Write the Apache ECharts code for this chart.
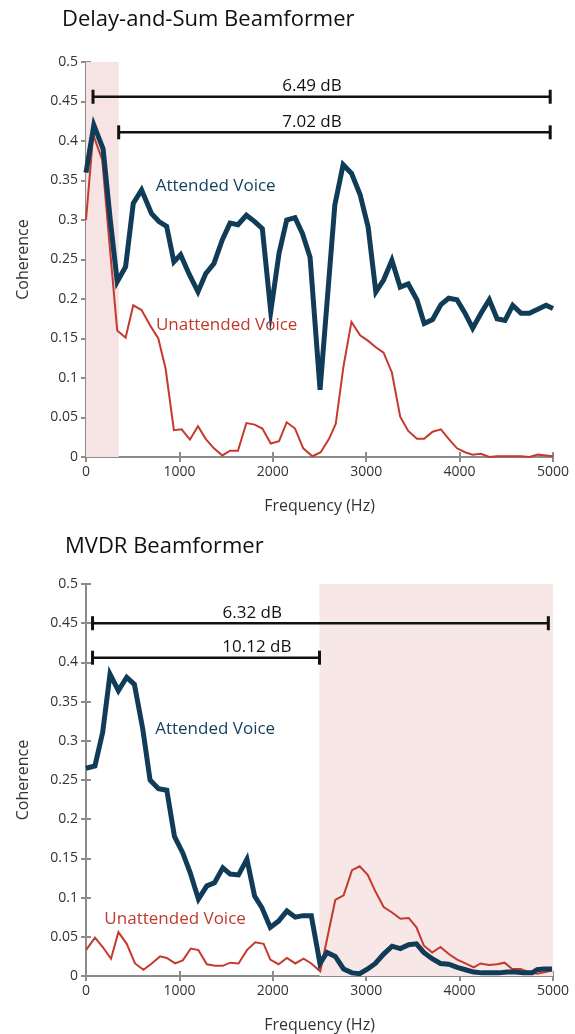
<!DOCTYPE html>
<html><head><meta charset="utf-8">
<script src="https://cdn.jsdelivr.net/npm/echarts@6/dist/echarts.min.js"></script>
<style>html,body{margin:0;padding:0;background:#fff}#c{width:575px;height:1034px}</style>
</head><body><div id="c"></div>
<script>
// ---------- DATA ----------
const titles = ['Delay-and-Sum Beamformer', 'MVDR Beamformer'];
const xTickMax = 5000, xTickStep = 1000;
const yTickMax = 0.5, yTickStep = 0.05;

// Delay-and-Sum: [frequency Hz, coherence]
const dsAttended = [[0,0.36],[84,0.42],[183,0.39],[260,0.30],[334,0.222],[424,0.241],[506,0.321],[595,0.338],[702,0.308],[781,0.298],[863,0.292],[941,0.247],[1013,0.256],[1102,0.232],[1199,0.209],[1281,0.232],[1370,0.245],[1460,0.275],[1542,0.296],[1627,0.294],[1717,0.306],[1806,0.298],[1888,0.289],[1978,0.184],[2067,0.258],[2149,0.30],[2238,0.303],[2317,0.283],[2399,0.253],[2506,0.085],[2664,0.319],[2753,0.37],[2843,0.359],[2935,0.332],[3021,0.291],[3103,0.209],[3186,0.224],[3275,0.249],[3364,0.215],[3450,0.219],[3543,0.199],[3621,0.169],[3711,0.174],[3800,0.193],[3883,0.201],[3972,0.199],[4058,0.182],[4140,0.163],[4229,0.182],[4318,0.199],[4401,0.175],[4486,0.173],[4569,0.192],[4658,0.182],[4747,0.182],[4837,0.187],[4926,0.192],[5000,0.188]];
const dsUnattended = [[0,0.30],[77,0.408],[174,0.376],[245,0.279],[334,0.16],[424,0.151],[506,0.192],[595,0.186],[684,0.167],[774,0.15],[852,0.112],[941,0.034],[1024,0.035],[1113,0.022],[1199,0.039],[1281,0.023],[1370,0.011],[1460,0.002],[1542,0.008],[1627,0.008],[1717,0.043],[1806,0.041],[1888,0.036],[1978,0.017],[2067,0.02],[2149,0.044],[2238,0.036],[2326,0.011],[2424,0.001],[2513,0.006],[2602,0.023],[2674,0.042],[2756,0.114],[2842,0.171],[2935,0.154],[3021,0.147],[3103,0.139],[3186,0.132],[3275,0.107],[3364,0.051],[3450,0.033],[3543,0.023],[3621,0.023],[3711,0.032],[3800,0.035],[3883,0.023],[3972,0.011],[4058,0.006],[4140,0.003],[4229,0.004],[4318,0.0],[4401,0.001],[4486,0.001],[4569,0.001],[4658,0.001],[4747,0.0],[4837,0.003],[4926,0.002],[5000,0.001]];
const dsShade = [0, 350];
const dsBarStart = [75, 350];
const dsBarEnd = [4970, 4970];
const dsBarLevel = [0.456, 0.411];
const dsBarLabel = ['6.49 dB', '7.02 dB'];
const dsBarLabelFreq = [2420, 2420];
const dsTextLabels = ['Attended Voice', 'Unattended Voice'];
const dsTextPos = [[1388, 0.343], [1506, 0.167]];

// MVDR
const mvAttended = [[0,0.265],[96,0.268],[179,0.311],[257,0.385],[347,0.364],[436,0.381],[518,0.372],[608,0.315],[686,0.25],[776,0.239],[865,0.237],[947,0.178],[1036,0.157],[1115,0.132],[1204,0.098],[1294,0.115],[1376,0.119],[1465,0.138],[1544,0.130],[1633,0.129],[1723,0.149],[1805,0.102],[1884,0.087],[1973,0.062],[2062,0.070],[2151,0.083],[2241,0.075],[2323,0.077],[2412,0.077],[2505,0.016],[2580,0.030],[2669,0.025],[2758,0.009],[2848,0.004],[2930,0.003],[3016,0.009],[3098,0.016],[3187,0.028],[3277,0.038],[3366,0.035],[3455,0.040],[3538,0.041],[3616,0.030],[3706,0.022],[3795,0.016],[3884,0.015],[3974,0.011],[4063,0.008],[4152,0.005],[4241,0.004],[4330,0.004],[4420,0.004],[4509,0.005],[4598,0.005],[4687,0.004],[4776,0.004],[4830,0.008],[4900,0.009],[4990,0.009]];
const mvUnattended = [[0,0.033],[96,0.049],[179,0.037],[268,0.022],[347,0.056],[436,0.041],[525,0.016],[615,0.008],[704,0.016],[793,0.025],[865,0.023],[954,0.016],[1036,0.02],[1122,0.035],[1204,0.033],[1294,0.015],[1383,0.013],[1465,0.013],[1544,0.017],[1633,0.016],[1723,0.033],[1812,0.043],[1902,0.041],[1973,0.021],[2062,0.015],[2151,0.023],[2241,0.016],[2330,0.022],[2412,0.016],[2508,0.006],[2669,0.097],[2758,0.103],[2848,0.135],[2930,0.140],[3016,0.129],[3098,0.108],[3187,0.088],[3277,0.081],[3366,0.073],[3455,0.074],[3538,0.062],[3616,0.039],[3706,0.030],[3795,0.037],[3884,0.028],[3974,0.021],[4063,0.016],[4152,0.011],[4224,0.016],[4313,0.014],[4402,0.015],[4481,0.017],[4563,0.009],[4652,0.009],[4741,0.005],[4830,0.003],[4920,0.005],[4991,0.007]];
const mvShade = [2500, 5000];
const mvBarStart = [70, 70];
const mvBarEnd = [4950, 2500];
const mvBarLevel = [0.45, 0.406];
const mvBarLabel = ['6.32 dB', '10.12 dB'];
const mvBarLabelFreq = [1780, 1830];
const mvTextLabels = ['Attended Voice', 'Unattended Voice'];
const mvTextPos = [[1383, 0.315], [954, 0.072]];

// ---------- STYLE ----------
const FONT = '"Open Sans", "Noto Sans", sans-serif';
const NAVY = '#113c58';
const RED = '#c53a2c';
const AXIS = '#8c8c8c';
const TXT = '#333333';

const chart = echarts.init(document.getElementById('c'), null, {renderer: 'canvas'});

function xAxes(gi) {
  return [
    {type:'value', gridIndex:gi, min:0, max:xTickMax, interval:xTickStep, position:'bottom',
     name:'Frequency (Hz)', nameLocation:'middle', nameGap:41,
     nameTextStyle:{fontFamily:FONT, fontSize:16, color:TXT},
     axisLine:{lineStyle:{color:AXIS, width:2}}, axisTick:{inside:true, length:5, lineStyle:{color:AXIS, width:2}},
     axisLabel:{fontFamily:FONT, fontSize:14, color:TXT, margin:8, formatter: v => String(v)}, splitLine:{show:false}},
    {type:'value', gridIndex:gi, min:0, max:xTickMax, interval:xTickStep, position:'top',
     axisLine:{lineStyle:{color:AXIS, width:2}}, axisTick:{inside:true, length:5, lineStyle:{color:AXIS, width:2}},
     axisLabel:{show:false}, splitLine:{show:false}}
  ];
}
function yAxes(gi) {
  return [
    {type:'value', gridIndex:gi, min:0, max:yTickMax, interval:yTickStep, position:'left',
     name:'Coherence', nameLocation:'middle', nameGap:55,
     nameTextStyle:{fontFamily:FONT, fontSize:16, color:TXT},
     axisLine:{show:true, lineStyle:{color:AXIS, width:2}}, axisTick:{show:true, inside:true, length:5, lineStyle:{color:AXIS, width:2}},
     axisLabel:{fontFamily:FONT, fontSize:14, color:TXT, margin:8, formatter: v => String(+v.toFixed(2))}, splitLine:{show:false}},
    {type:'value', gridIndex:gi, min:0, max:yTickMax, interval:yTickStep, position:'right',
     axisLine:{show:true, lineStyle:{color:AXIS, width:2}}, axisTick:{show:true, inside:true, length:5, lineStyle:{color:AXIS, width:2}},
     axisLabel:{show:false}, splitLine:{show:false}}
  ];
}

function barSeries(xi, yi, starts, ends, levels, labels, labelFreqs) {
  return {
    type:'custom', xAxisIndex:xi, yAxisIndex:yi, z:5, silent:true,
    data: starts.map((s, i) => [s, ends[i], levels[i], labelFreqs[i]]),
    renderItem: (params, api) => {
      const y = api.value(2);
      const p1 = api.coord([api.value(0), y]);
      const p2 = api.coord([api.value(1), y]);
      const pl = api.coord([api.value(3), y]);
      return {type:'group', children:[
        {type:'line', shape:{x1:p1[0], y1:p1[1], x2:p2[0], y2:p2[1]}, style:{stroke:'#111', lineWidth:2.5}},
        {type:'line', shape:{x1:p1[0], y1:p1[1]-7, x2:p1[0], y2:p1[1]+7}, style:{stroke:'#111', lineWidth:3}},
        {type:'line', shape:{x1:p2[0], y1:p2[1]-7, x2:p2[0], y2:p2[1]+7}, style:{stroke:'#111', lineWidth:3}},
        {type:'text', x:pl[0], y:pl[1]-2, style:{text:labels[params.dataIndex], align:'center', verticalAlign:'bottom', font:'17px ' + FONT, fill:'#111'}}
      ]};
    }
  };
}

function textSeries(xi, yi, labels, pos) {
  return {
    type:'scatter', xAxisIndex:xi, yAxisIndex:yi, z:6, silent:true, symbolSize:0,
    itemStyle:{opacity:1},
    data: pos.map((p, i) => ({value:p, label:{show:true, position:'inside', formatter:labels[i], fontFamily:FONT, fontSize:17, opacity:1, color: i === 0 ? '#123f5c' : '#c0392b'}}))
  };
}

function shadeSeries(xi, yi, range, color) {
  return {
    type:'line', xAxisIndex:xi, yAxisIndex:yi, z:1, data:[], silent:true,
    markArea:{silent:true, itemStyle:{color:color}, data:[[{xAxis:range[0]}, {xAxis:range[1]}]]}
  };
}

function lineSeries(xi, yi, data, color, width, z) {
  return {type:'line', xAxisIndex:xi, yAxisIndex:yi, data:data, showSymbol:false, symbol:'none', z:z,
    lineStyle:{color:color, width:width, join:'miter'}, animation:false};
}

const option = {
  animation:false,
  backgroundColor:'#fff',
  title:[
    {text:titles[0], left:57, top:4, textStyle:{fontFamily:FONT, fontSize:22, fontWeight:'normal', color:'#111'}},
    {text:titles[1], left:60, top:531, textStyle:{fontFamily:FONT, fontSize:22, fontWeight:'normal', color:'#111'}}
  ],
  grid:[
    {left:86, top:62, width:467, height:395},
    {left:86, top:584, width:467, height:395}
  ],
  xAxis:[...xAxes(0), ...xAxes(1)],
  yAxis:[...yAxes(0), ...yAxes(1)],
  series:[
    shadeSeries(0, 0, dsShade, '#f6e3e3'),
    lineSeries(0, 0, dsUnattended, RED, 2, 3),
    lineSeries(0, 0, dsAttended, NAVY, 5, 4),
    barSeries(0, 0, dsBarStart, dsBarEnd, dsBarLevel, dsBarLabel, dsBarLabelFreq),
    textSeries(0, 0, dsTextLabels, dsTextPos),
    shadeSeries(2, 2, mvShade, '#f7e8e7'),
    lineSeries(2, 2, mvUnattended, RED, 2, 3),
    lineSeries(2, 2, mvAttended, NAVY, 5, 4),
    barSeries(2, 2, mvBarStart, mvBarEnd, mvBarLevel, mvBarLabel, mvBarLabelFreq),
    textSeries(2, 2, mvTextLabels, mvTextPos)
  ]
};
chart.setOption(option);
</script></body></html>
